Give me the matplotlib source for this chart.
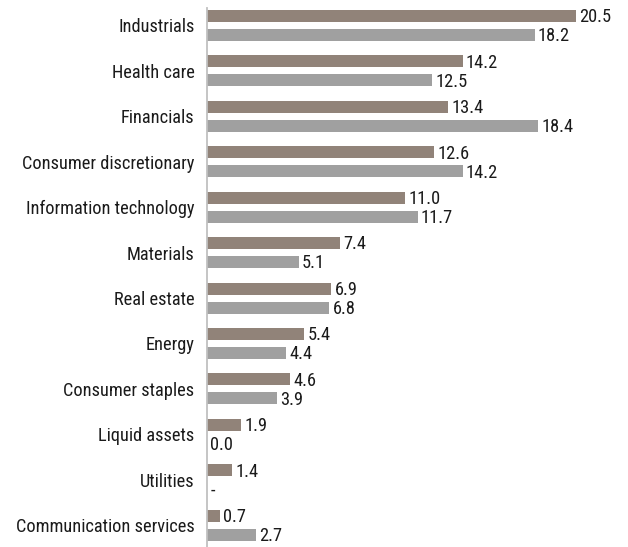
import numpy as np
import matplotlib
matplotlib.use('Agg')
import matplotlib.pyplot as plt

plt.rcParams['font.family'] = ['Roboto Condensed', 'DejaVu Sans']

categories = ['Industrials', 'Health care', 'Financials', 'Consumer discretionary',
              'Information technology', 'Materials', 'Real estate', 'Energy',
              'Consumer staples', 'Liquid assets', 'Utilities', 'Communication services']
fund = [20.5, 14.2, 13.4, 12.6, 11.0, 7.4, 6.9, 5.4, 4.6, 1.9, 1.4, 0.7]
index = [18.2, 12.5, 18.4, 14.2, 11.7, 5.1, 6.8, 4.4, 3.9, 0.0, None, 2.7]

c_fund = '#918379'
c_index = '#a0a0a0'
fs = 13.2

fig = plt.figure(figsize=(6.28, 5.47), dpi=100)
ax = fig.add_axes([207/628, 0, 1 - 207/628, 1 - 8/547])

y = np.arange(len(categories))
h = 0.264
off = 0.209

# utilities has no index value, shown as "-"
index_vals = [v if v is not None else 0 for v in index]
ax.barh(y - off, fund, height=h, color=c_fund)
ax.barh(y + off, index_vals, height=h, color=c_index)

for i in range(len(categories)):
    ax.text(fund[i] + 0.18, y[i] - off + 0.03, '%.1f' % fund[i], va='center', ha='left',
            fontsize=fs, color='#1a1a1a')
    if index[i] is None:
        lab = '-'
        xv = 0
    else:
        lab = '%.1f' % index[i]
        xv = index[i]
    ax.text(xv + 0.18, y[i] + off + 0.03, lab, va='center', ha='left',
            fontsize=fs, color='#1a1a1a')

ax.set_xlim(0, (628 - 207) / 18)
ax.set_ylim(11.48, -0.385)
ax.set_yticks(y)
ax.set_yticklabels(categories, fontsize=fs, color='#1a1a1a')
ax.tick_params(axis='y', length=0, pad=9)
ax.set_xticks([])
for s in ['top', 'right', 'bottom']:
    ax.spines[s].set_visible(False)
ax.spines['left'].set_color('#c0c0c0')
ax.spines['left'].set_linewidth(1.3)

fig.savefig('out.png', dpi=100)
